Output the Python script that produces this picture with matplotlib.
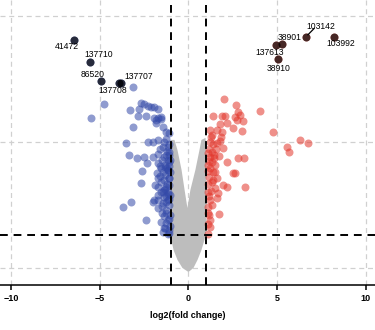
import numpy as np
import matplotlib
matplotlib.use("Agg")
import matplotlib.pyplot as plt

plt.rcParams['font.family'] = ['Liberation Sans', 'DejaVu Sans']

# significant down-regulated genes (log2FC, -log10 p)
down_x = [-3.15, -4.78, -5.51, -3.31, -2.81, -2.70, -2.53, -2.30, -2.13, -1.97, -1.69,
          -2.87, -2.42, -1.97, -1.74, -1.57, -1.85, -1.57, -3.15, -1.85, -1.46, -1.24,
          -1.12, -3.54, -2.30, -2.02, -1.69, -1.40, -1.46, -1.18, -3.37, -2.92, -2.53,
          -2.02, -1.69, -1.40, -1.12, -1.29, -2.36, -1.74, -1.18, -1.07, -2.64, -1.57,
          -1.18, -1.12, -2.70, -1.69, -1.40, -1.12, -1.69, -1.29, -1.57, -1.18, -1.74,
          -1.40, -3.26, -3.71, -2.02, -1.74, -1.46, -1.18, -1.97, -1.69, -1.29, -2.42,
          -1.57, -1.18, -1.29, -1.40, -1.12, -1.46, -1.12, -1.18, -1.07, -1.10, -1.05,
          -1.08, -1.05, -1.10, -1.05, -1.30, -1.50, -1.35, -1.55, -1.25, -1.50, -1.30,
          -1.05, -1.60, -1.25, -1.40, -1.90, -1.80, -1.45, -1.62, -1.22, -1.15,
          -1.08, -1.20, -1.35, -1.10, -1.28, -1.45, -1.15, -1.33, -1.06, -1.22,
          -1.52, -1.40, -1.12, -1.58, -1.25]
down_y = [7.18, 6.51, 5.95, 6.27, 6.31, 6.55, 6.51, 6.43, 6.39, 6.39, 6.31,
          6.03, 6.03, 5.95, 5.95, 5.99, 5.87, 5.91, 5.60, 5.75, 5.60, 5.40,
          5.36, 4.96, 5.00, 5.00, 5.08, 5.00, 4.80, 4.80, 4.48, 4.37, 4.40,
          4.40, 4.52, 4.40, 4.48, 4.48, 4.17, 4.17, 4.29, 4.21, 3.85, 3.97,
          3.89, 4.05, 3.37, 3.57, 3.49, 3.57, 3.21, 3.21, 3.02, 3.02, 2.90,
          2.82, 2.62, 2.42, 2.62, 2.70, 2.58, 2.70, 2.70, 2.38, 2.30, 1.90,
          1.83, 1.90, 1.79, 1.59, 1.51, 1.43, 1.39, 1.35, 4.90, 4.60, 3.80,
          3.30, 2.90, 2.50, 2.10, 4.10, 4.30, 3.70, 3.40, 2.60, 2.20, 1.60,
          1.65, 4.70, 5.10, 3.10, 3.30, 3.75, 3.80, 3.65, 3.95, 2.95,
          3.55, 3.35, 3.15, 2.75, 2.85, 3.00, 3.90, 4.00, 4.30, 4.65,
          2.45, 2.05, 1.95, 4.05, 2.20]

# significant up-regulated genes
up_x = [2.02, 2.70, 2.81, 2.92, 4.04, 1.40, 1.91, 2.08, 2.64, 2.75, 3.09,
        1.80, 2.19, 1.63, 1.91, 2.53, 3.03, 4.78, 1.24, 1.35, 6.29, 6.74,
        5.56, 5.67, 1.24, 1.40, 1.60, 1.80, 1.15, 1.35, 1.55, 1.95, 1.20,
        1.45, 1.70, 1.10, 1.30, 2.81, 3.15, 2.19, 2.53, 2.64, 3.20, 1.97,
        2.19, 1.52, 1.52, 1.69, 1.63, 1.74, 1.24, 1.12, 1.24, 1.12, 1.40,
        1.40, 1.52, 1.15, 1.10, 1.20, 1.10, 1.30, 1.18, 1.08, 1.25, 1.85,
        1.08, 1.22, 1.15, 1.32, 1.10, 1.45, 1.18, 1.28, 1.60, 1.12]
up_y = [6.71, 6.47, 6.19, 6.07, 6.21, 6.03, 6.03, 6.03, 5.99, 5.87, 5.83,
        5.71, 5.75, 5.48, 5.40, 5.56, 5.44, 5.40, 5.48, 5.28, 5.08, 4.96,
        4.80, 4.60, 5.00, 4.90, 4.95, 5.05, 4.70, 4.60, 4.70, 4.75, 4.40,
        4.35, 4.45, 4.10, 4.20, 4.37, 4.37, 4.21, 3.77, 3.77, 3.21, 3.29,
        3.21, 4.09, 3.81, 2.98, 2.78, 2.14, 1.90, 2.42, 1.63, 1.35, 3.81,
        3.49, 3.17, 3.60, 3.00, 2.70, 2.20, 2.50, 2.10, 4.55, 5.20, 5.20,
        3.85, 3.95, 4.25, 3.40, 3.35, 4.50, 2.85, 3.05, 3.55, 1.75]

# outline of the non-significant gene cloud
grey_x = [0.00, -0.34, -0.62, -0.84, -0.96, -1.01, -1.01, -0.79, -0.62, -0.39, -0.22,
          -0.06, 0.11, 0.39, 0.62, 0.73, 0.96, 1.01, 1.01, 0.90, 0.73, 0.51, 0.28]
grey_y = [-0.16, 0.00, 0.32, 0.71, 1.11, 1.50, 5.08, 5.08, 4.68, 3.89, 3.10,
          2.38, 3.10, 3.89, 4.68, 5.08, 5.16, 4.68, 1.50, 1.11, 0.71, 0.32, 0.00]

# labelled top genes
top_down = ['41472', '137710', '86520', '137707', '137708']
top_down_x = [-6.46, -5.56, -4.94, -3.92, -3.78]
top_down_y = [9.05, 8.17, 7.42, 7.34, 7.32]
top_down_lx = [-6.85, -5.06, -5.39, -2.81, -4.27]
top_down_ly = [8.77, 8.45, 7.66, 7.58, 7.06]

top_up = ['103142', '103992', '38901', '137613', '38910']
top_up_x = [6.63, 8.20, 5.28, 4.94, 5.06]
top_up_y = [9.17, 9.17, 8.89, 8.85, 8.29]
top_up_lx = [7.47, 8.60, 5.67, 4.55, 5.10]
top_up_ly = [9.56, 8.89, 9.13, 8.53, 7.93]

fc_cut = 1
p_cut = -np.log10(0.05)

fig = plt.figure(figsize=(3.75, 3.3), dpi=100)
ax = fig.add_axes([0, 45 / 330, 1, 285 / 330])

blue = '#3349a8'
red = '#e2362b'

ax.fill(grey_x, grey_y, color='#bdbdbd', lw=0, zorder=2)
ax.scatter(down_x, down_y, s=33, color=blue, alpha=0.55, lw=0, zorder=3)
ax.scatter(up_x, up_y, s=33, color=red, alpha=0.55, lw=0, zorder=3)

ax.scatter(top_down_x, top_down_y, s=33, color=blue, alpha=0.6, lw=0, zorder=4)
ax.scatter(top_down_x, top_down_y, s=33, color='black', alpha=0.7, lw=0, zorder=4)
ax.scatter(top_up_x, top_up_y, s=33, color=red, alpha=0.6, lw=0, zorder=4)
ax.scatter(top_up_x, top_up_y, s=33, color='black', alpha=0.7, lw=0, zorder=4)

for name, lx, ly in zip(top_down + top_up, top_down_lx + top_up_lx, top_down_ly + top_up_ly):
    ax.text(lx, ly, name, fontsize=6.2, ha='center', va='center', zorder=6)

# leader line for the one label pushed away from its point
ax.plot([top_up_x[0] + 0.1, top_up_x[0] + 0.45], [top_up_y[0] + 0.08, top_up_y[0] + 0.33],
        color='black', lw=0.9, zorder=5)

# threshold lines
for v in (-fc_cut, fc_cut):
    ax.axvline(v, color='black', lw=1.4, dashes=(4, 3), zorder=5)
ax.axhline(p_cut, color='black', lw=1.4, dashes=(4, 3), zorder=5)

ax.set_xlim(-10.62, 10.51)
ax.set_ylim(-0.675, 10.63)
ax.set_xticks([-10, -5, 0, 5, 10])
ax.set_yticks([0, 5, 10])
ax.grid(True, color='#d0d0d0', lw=0.9, dashes=(4, 3), zorder=0)
ax.set_axisbelow(True)

for side in ('top', 'right', 'left'):
    ax.spines[side].set_visible(False)
ax.spines['bottom'].set_linewidth(1.1)
ax.tick_params(axis='y', left=False, labelleft=False)
ax.tick_params(axis='x', length=3.5, width=1.1, labelsize=6.5, pad=3)
for lab in ax.get_xticklabels():
    lab.set_fontweight('bold')
ax.set_xlabel('log2(fold change)', fontsize=6.5, fontweight='bold', labelpad=6)

fig.savefig('out.png', dpi=100)
